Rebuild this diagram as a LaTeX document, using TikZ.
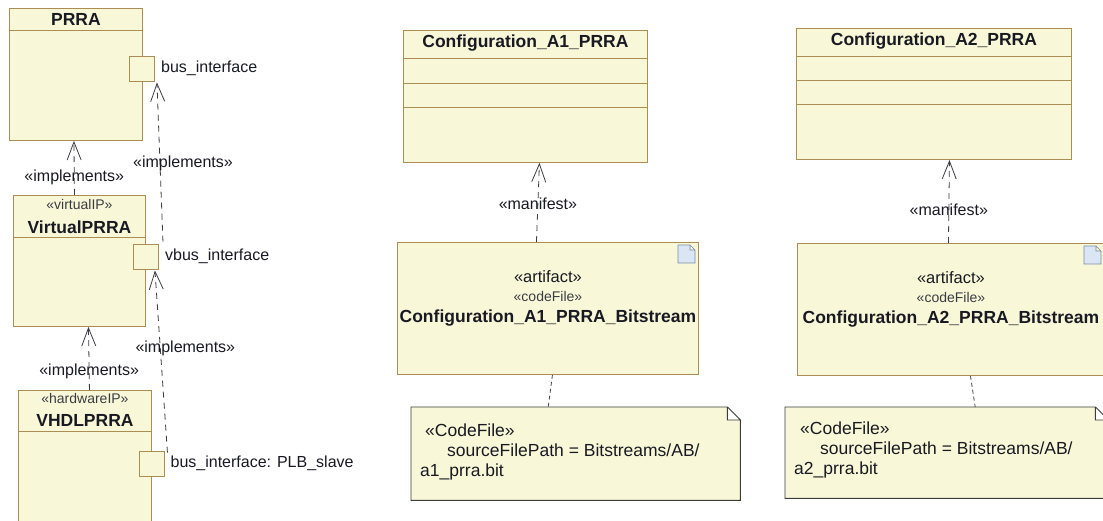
\documentclass[tikz,border=0pt]{standalone}
\usepackage{fontspec}
\setmainfont{Liberation Sans}
\usetikzlibrary{positioning,arrows.meta,calc}
\definecolor{relleno}{RGB}{248,248,216}
\definecolor{borde}{RGB}{172,142,82}
\definecolor{texto}{RGB}{25,25,35}
\definecolor{bordenota}{RGB}{60,60,60}
\definecolor{icono}{RGB}{218,230,244}
\definecolor{bordeicono}{RGB}{120,140,165}

\begin{document}
\begin{tikzpicture}[x=1pt, y=-1pt,
  clase/.style={draw=borde, fill=relleno, line width=0.9pt, anchor=north west,
                inner sep=0pt},
  linea/.style={draw=borde, line width=0.9pt},
  puerto/.style={draw=borde, fill=relleno, line width=0.9pt, minimum size=25pt,
                 inner sep=0pt},
  titulo/.style={font=\fontsize{17.5}{20}\selectfont\bfseries, text=texto},
  estereo/.style={font=\fontsize{14}{16}\selectfont, text=texto!85},
  etiqueta/.style={font=\fontsize{16}{19}\selectfont, text=texto, inner sep=1pt},
  notatexto/.style={font=\fontsize{17.5}{20}\selectfont, text=texto, align=left,
                    inner sep=0pt, anchor=base west},
  realiza/.style={dash pattern=on 6pt off 5pt, line width=0.8pt, draw=texto!85,
                  -{Straight Barb[length=18pt, width=14pt, line width=0.8pt]}},
  enlace/.style={dash pattern=on 4pt off 3pt, line width=0.8pt, draw=texto!80}]
  \path[use as bounding box, fill=white] (0,0) rectangle (1103,521);

  % componentes de la izquierda
  \node[clase, minimum width=133pt, minimum height=132pt] (prra) at (9,8) {};
  \node[titulo] at ($(prra.north)+(0,11)$) {PRRA};
  \draw[linea] ($(prra.north west)+(0,22)$) -- ($(prra.north east)+(0,22)$);
  \node[puerto] (bus) at (142,68.5) {};
  \node[etiqueta, right=5pt of bus] {bus\_interface};

  \node[clase, minimum width=132pt, minimum height=131pt] (virt) at (13,195) {};
  \node[estereo] at ($(virt.north)+(0,9)$) {«virtualIP»};
  \node[titulo] at ($(virt.north)+(0,32)$) {VirtualPRRA};
  \draw[linea] ($(virt.north west)+(0,42)$) -- ($(virt.north east)+(0,42)$);
  \node[puerto] (vbus) at (146,256.5) {};
  \node[etiqueta, right=5pt of vbus] {vbus\_interface};

  \node[clase, minimum width=133pt, minimum height=135pt] (vhdl) at (18,390) {};
  \node[estereo] at ($(vhdl.north)+(0,8)$) {«hardwareIP»};
  \node[titulo] at ($(vhdl.north)+(0,30)$) {VHDLPRRA};
  \draw[linea] ($(vhdl.north west)+(0,41)$) -- ($(vhdl.north east)+(0,41)$);
  \node[puerto] (hbus) at (151.5,463.5) {};
  \node[etiqueta, right=5pt of hbus] {bus\_interface: PLB\_slave};

  \draw[realiza] ([xshift=-5pt]virt.north) -- ([xshift=-2pt]prra.south)
    node[etiqueta, pos=0.33] {«implements»};
  \draw[realiza] ([xshift=4.5pt]vhdl.north) -- ([xshift=9pt]virt.south)
    node[etiqueta, pos=0.3] {«implements»};
  \draw[realiza] ([xshift=4pt, yshift=2pt]vbus.north east)
    -- ([xshift=2pt, yshift=-1pt]bus.south east)
    node[etiqueta, pos=0.49, xshift=23pt] {«implements»};
  \draw[realiza] ([xshift=3pt, yshift=-2pt]hbus.north east)
    -- ([xshift=-4pt, yshift=-1pt]vbus.south east)
    node[etiqueta, pos=0.57, xshift=25pt] {«implements»};

  % configuraciones
  \node[clase, minimum width=244pt, minimum height=132pt] (conf1) at (403,30) {};
  \node[titulo] at ($(conf1.north)+(0,13)$) {Configuration\_A1\_PRRA};
  \foreach \d in {28,53,77}
    \draw[linea] ($(conf1.north west)+(0,\d)$) -- ($(conf1.north east)+(0,\d)$);

  \node[clase, minimum width=275pt, minimum height=131pt] (conf2) at (796,28) {};
  \node[titulo] at ($(conf2.north)+(0,13)$) {Configuration\_A2\_PRRA};
  \foreach \d in {28,52,76}
    \draw[linea] ($(conf2.north west)+(0,\d)$) -- ($(conf2.north east)+(0,\d)$);

  % artefactos
  \foreach \n/\x/\y/\w/\c in {art1/397/242/301/A1, art2/797/243/307/A2} {
    \node[clase, minimum width=\w pt, minimum height=132pt] (\n) at (\x,\y) {};
    \node[etiqueta, font=\fontsize{16.5}{19}\selectfont] at ($(\n.north)+(0,35)$) {«artifact»};
    \node[estereo] at ($(\n.north)+(0,54)$) {«codeFile»};
    \node[titulo] at ($(\n.north)+(0,76)$) {Configuration\_\c\_PRRA\_Bitstream};
  }
  \foreach \x/\y in {678/245, 1084/246}
    \draw[draw=bordeicono, fill=icono, line width=0.6pt]
      (\x,\y) -- (\x+12,\y) -- (\x+17,\y+5) -- (\x+17,\y+18) -- (\x,\y+18) -- cycle
      (\x+12,\y) -- (\x+12,\y+5) -- (\x+17,\y+5);

  \draw[realiza] ([xshift=-11.5pt]art1.north) -- ([xshift=14pt]conf1.south)
    node[etiqueta, pos=0.48] {«manifest»};
  \draw[realiza] ([xshift=-2.5pt]art2.north) -- ([xshift=15.5pt]conf2.south)
    node[etiqueta, pos=0.4] {«manifest»};

  % notas
  \node[anchor=north west, minimum width=329pt, minimum height=93pt,
        inner sep=0pt] (nota1) at (411,407) {};
  \node[anchor=north west, minimum width=323pt, minimum height=91pt,
        inner sep=0pt] (nota2) at (785,407) {};
  \foreach \n in {nota1, nota2}
    \draw[draw=bordenota, fill=relleno, line width=0.9pt]
      (\n.north west) -- ([xshift=-13pt]\n.north east)
      -- ([yshift=-13pt]\n.north east) -- (\n.south east) -- (\n.south west) -- cycle
      ([xshift=-13pt]\n.north east) -- ([xshift=-13pt, yshift=-13pt]\n.north east)
      -- ([yshift=-13pt]\n.north east);
  \node[notatexto] at (420,476)
    {\hspace*{5pt}«CodeFile»\\\hspace*{27pt}sourceFilePath = Bitstreams/AB/\\a1\_prra.bit};
  \node[notatexto] at (794,474)
    {\hspace*{6pt}«CodeFile»\\\hspace*{26pt}sourceFilePath = Bitstreams/AB/\\a2\_prra.bit};

  \draw[enlace] ([xshift=4.5pt]art1.south) -- ([xshift=-27.5pt]nota1.north);
  \draw[enlace] ([xshift=19.5pt]art2.south) -- ([xshift=28.5pt]nota2.north);
\end{tikzpicture}
\end{document}
